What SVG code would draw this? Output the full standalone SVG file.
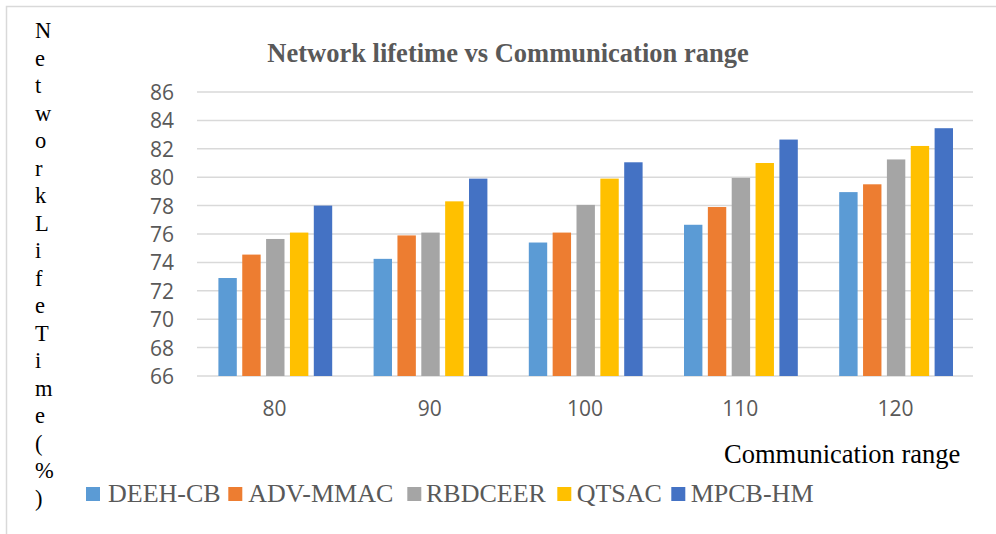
<svg xmlns="http://www.w3.org/2000/svg" width="996" height="534" viewBox="0 0 996 534">
<style>
.frame{stroke:#d9d9d9;stroke-width:1.5;fill:none}
.grid{stroke:#d9d9d9;stroke-width:1.5}
.tick{font-family:"Open Sans","Liberation Sans",sans-serif;font-size:21px;fill:#595959}
.ylab{text-anchor:end}
.xlab{text-anchor:middle}
.title{font-family:"Liberation Serif",serif;font-weight:bold;font-size:26.5px;fill:#595959;text-anchor:middle}
.axt{font-family:"Liberation Serif",serif;font-size:22.5px;fill:#000}
.axx{font-family:"Liberation Serif",serif;font-size:26.5px;fill:#000}
.leg{font-family:"Liberation Serif",serif;font-size:26px;fill:#595959}
.s1{fill:#5B9BD5}.s2{fill:#ED7D31}.s3{fill:#A5A5A5}.s4{fill:#FFC000}.s5{fill:#4472C4}
</style>
<rect width="996" height="534" fill="#fff"/>
<path class="frame" d="M6.5 534 V6.5 H996"/>
<text class="title" x="508" y="62">Network lifetime vs Communication range</text>
<g id="gridlines">
<line class="grid" x1="197" y1="92" x2="973" y2="92"/>
<line class="grid" x1="197" y1="120.4" x2="973" y2="120.4"/>
<line class="grid" x1="197" y1="148.8" x2="973" y2="148.8"/>
<line class="grid" x1="197" y1="177.2" x2="973" y2="177.2"/>
<line class="grid" x1="197" y1="205.6" x2="973" y2="205.6"/>
<line class="grid" x1="197" y1="234" x2="973" y2="234"/>
<line class="grid" x1="197" y1="262.4" x2="973" y2="262.4"/>
<line class="grid" x1="197" y1="290.8" x2="973" y2="290.8"/>
<line class="grid" x1="197" y1="319.2" x2="973" y2="319.2"/>
<line class="grid" x1="197" y1="347.6" x2="973" y2="347.6"/>
<line class="grid" x1="197" y1="376" x2="973" y2="376"/>
</g>
<g id="y-axis-labels" class="tick ylab">
<text x="174" y="100">86</text>
<text x="174" y="128.4">84</text>
<text x="174" y="156.8">82</text>
<text x="174" y="185.2">80</text>
<text x="174" y="213.6">78</text>
<text x="174" y="242">76</text>
<text x="174" y="270.4">74</text>
<text x="174" y="298.8">72</text>
<text x="174" y="327.2">70</text>
<text x="174" y="355.6">68</text>
<text x="174" y="384">66</text>
</g>
<g id="x-axis-labels" class="tick xlab">
<text x="274.6" y="416">80</text>
<text x="429.8" y="416">90</text>
<text x="585" y="416">100</text>
<text x="740.2" y="416">110</text>
<text x="895.4" y="416">120</text>
</g>
<g id="series-DEEH-CB" class="s1">
<rect x="218.4" y="278.02" width="18.4" height="97.98"/>
<rect x="373.6" y="258.85" width="18.4" height="117.15"/>
<rect x="528.8" y="242.52" width="18.4" height="133.48"/>
<rect x="684" y="224.77" width="18.4" height="151.23"/>
<rect x="839.2" y="192.11" width="18.4" height="183.89"/>
</g>
<g id="series-ADV-MMAC" class="s2">
<rect x="242.25" y="254.59" width="18.4" height="121.41"/>
<rect x="397.45" y="235.42" width="18.4" height="140.58"/>
<rect x="552.65" y="232.58" width="18.4" height="143.42"/>
<rect x="707.85" y="207.02" width="18.4" height="168.98"/>
<rect x="863.05" y="184.3" width="18.4" height="191.7"/>
</g>
<g id="series-RBDCEER" class="s3">
<rect x="266.1" y="238.97" width="18.4" height="137.03"/>
<rect x="421.3" y="232.58" width="18.4" height="143.42"/>
<rect x="576.5" y="204.89" width="18.4" height="171.11"/>
<rect x="731.7" y="177.91" width="18.4" height="198.09"/>
<rect x="886.9" y="159.45" width="18.4" height="216.55"/>
</g>
<g id="series-QTSAC" class="s4">
<rect x="289.95" y="232.58" width="18.4" height="143.42"/>
<rect x="445.15" y="201.34" width="18.4" height="174.66"/>
<rect x="600.35" y="178.62" width="18.4" height="197.38"/>
<rect x="755.55" y="163" width="18.4" height="213"/>
<rect x="910.75" y="145.96" width="18.4" height="230.04"/>
</g>
<g id="series-MPCB-HM" class="s5">
<rect x="313.8" y="205.6" width="18.4" height="170.4"/>
<rect x="469" y="178.62" width="18.4" height="197.38"/>
<rect x="624.2" y="162.29" width="18.4" height="213.71"/>
<rect x="779.4" y="139.57" width="18.4" height="236.43"/>
<rect x="934.6" y="128.21" width="18.4" height="247.79"/>
</g>
<g id="y-axis-title" class="axt">
<text x="35" y="38">N</text>
<text x="35" y="65.5">e</text>
<text x="35" y="93">t</text>
<text x="35" y="120.5">w</text>
<text x="35" y="148">o</text>
<text x="35" y="175.5">r</text>
<text x="35" y="203">k</text>
<text x="35" y="230.5">L</text>
<text x="35" y="258">i</text>
<text x="35" y="285.5">f</text>
<text x="35" y="313">e</text>
<text x="35" y="340.5">T</text>
<text x="35" y="368">i</text>
<text x="35" y="395.5">m</text>
<text x="35" y="423">e</text>
<text x="35" y="450.5">(</text>
<text x="35" y="478">%</text>
<text x="35" y="505.5">)</text>
</g>
<text id="x-axis-title" class="axx" x="724" y="463">Communication range</text>
<g id="legend" class="leg">
<rect class="s1" x="86" y="487" width="14" height="14"/>
<text x="108" y="501.5">DEEH-CB</text>
<rect class="s2" x="228.3" y="487" width="14" height="14"/>
<text x="248.3" y="501.5">ADV-MMAC</text>
<rect class="s3" x="407.3" y="487" width="14" height="14"/>
<text x="426" y="501.5">RBDCEER</text>
<rect class="s4" x="557.3" y="487" width="14" height="14"/>
<text x="576.7" y="501.5">QTSAC</text>
<rect class="s5" x="671.3" y="487" width="14" height="14"/>
<text x="690.7" y="501.5">MPCB-HM</text>
</g>
</svg>
